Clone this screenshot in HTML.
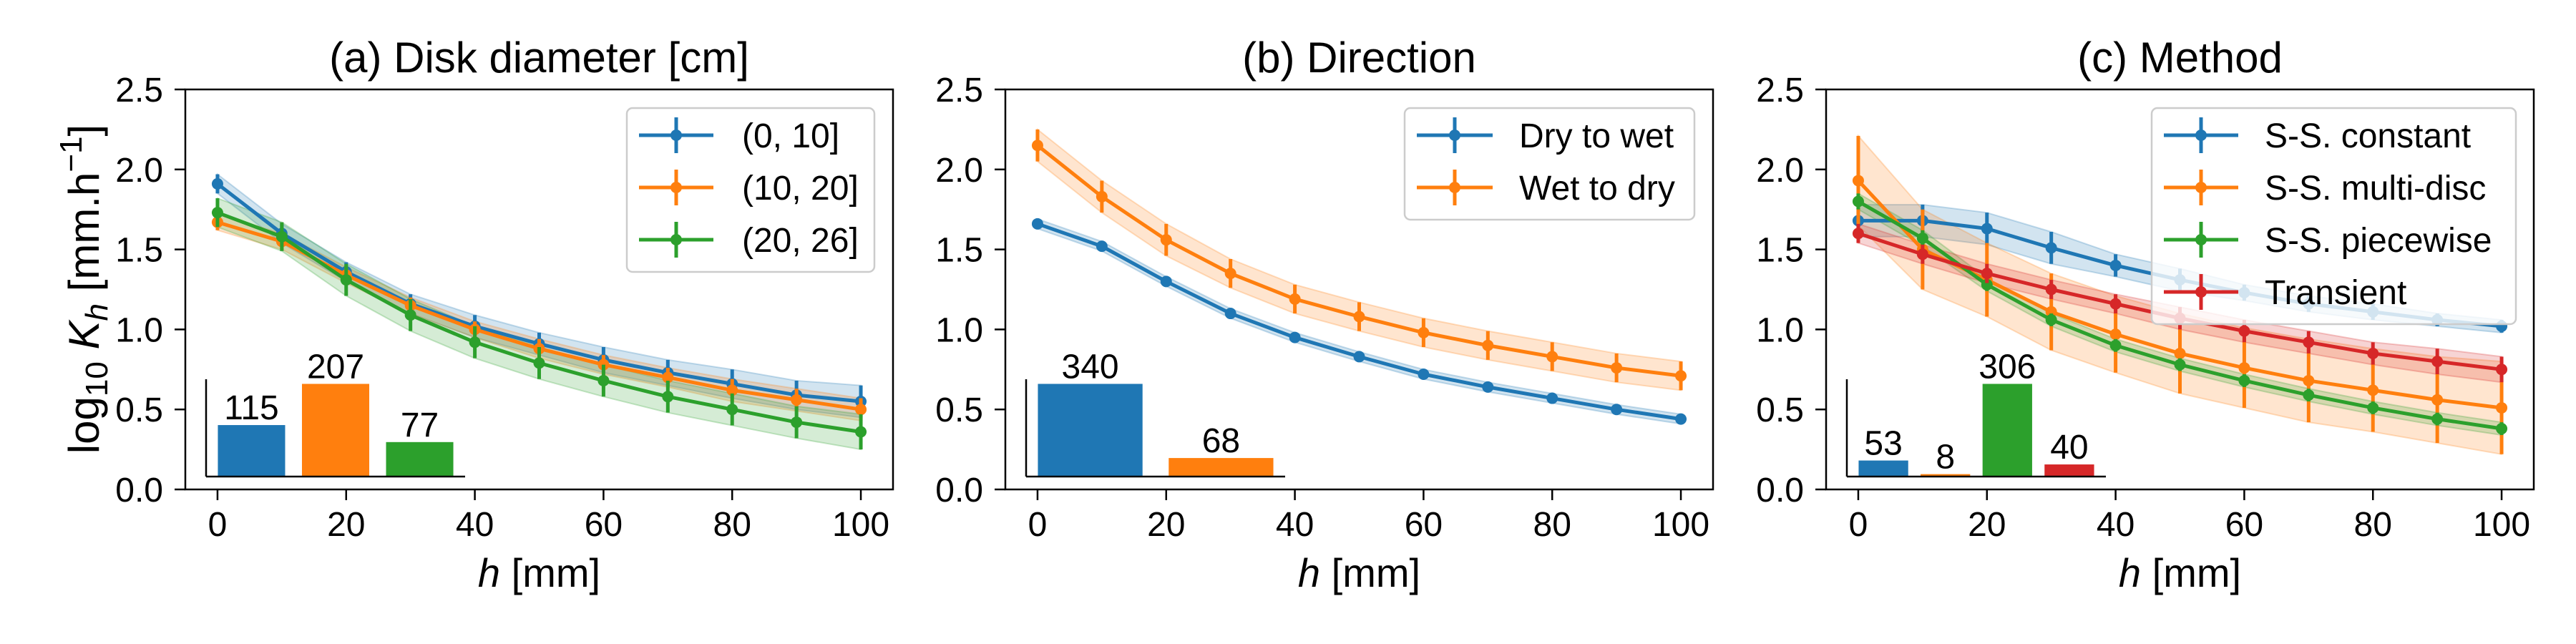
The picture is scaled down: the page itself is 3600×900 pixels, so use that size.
<!DOCTYPE html>
<html><head><meta charset="utf-8">
<style>
html,body{margin:0;padding:0;background:#fff;}
svg{display:block;font-family:"Liberation Sans",Arial,sans-serif;}
</style></head>
<body>
<svg id="fig" width="3600" height="900" viewBox="0 0 3600 900" xmlns="http://www.w3.org/2000/svg">
<rect width="3600" height="900" fill="#fff"/>
<text transform="translate(138,404) rotate(-90)" text-anchor="middle" font-size="60">log<tspan font-size="44" dy="12">10</tspan><tspan dy="-12"> </tspan><tspan font-style="italic">K</tspan><tspan font-style="italic" font-size="44" dy="12">h</tspan><tspan dy="-12"> [mm.h</tspan><tspan font-size="44" dy="-24">−1</tspan><tspan dy="24">]</tspan></text>
</svg>
<script>
const hVals = [0,10,20,30,40,50,60,70,80,90,100];
const xTicks = [0,20,40,60,80,100];
const yTicks = [0,0.5,1.0,1.5,2.0,2.5];
const yTickLabels = ["0.0","0.5","1.0","1.5","2.0","2.5"];

const aNames = ["(0, 10]","(10, 20]","(20, 26]"];
const aBlue = [1.91,1.60,1.36,1.16,1.02,0.91,0.81,0.73,0.66,0.59,0.55];
const aBlueErr = [0.06,0.06,0.06,0.06,0.07,0.07,0.08,0.08,0.09,0.09,0.10];
const aOrange = [1.67,1.55,1.34,1.15,1.00,0.88,0.78,0.70,0.62,0.56,0.50];
const aOrangeErr = [0.05,0.05,0.05,0.05,0.05,0.06,0.06,0.06,0.07,0.07,0.07];
const aGreen = [1.73,1.58,1.31,1.09,0.92,0.79,0.68,0.58,0.50,0.42,0.36];
const aGreenErr = [0.09,0.09,0.10,0.10,0.10,0.10,0.10,0.10,0.10,0.10,0.11];
const aCounts = [115,207,77];

const bNames = ["Dry to wet","Wet to dry"];
const bDry = [1.66,1.52,1.30,1.10,0.95,0.83,0.72,0.64,0.57,0.50,0.44];
const bDryErr = [0.03,0.03,0.03,0.03,0.03,0.03,0.03,0.03,0.03,0.03,0.03];
const bWet = [2.15,1.83,1.56,1.35,1.19,1.08,0.98,0.90,0.83,0.76,0.71];
const bWetErr = [0.10,0.10,0.10,0.09,0.09,0.09,0.09,0.09,0.09,0.09,0.09];
const bCounts = [340,68];

const cNames = ["S-S. constant","S-S. multi-disc","S-S. piecewise","Transient"];
const cConst = [1.68,1.68,1.63,1.51,1.40,1.31,1.23,1.16,1.11,1.06,1.02];
const cConstErr = [0.10,0.10,0.10,0.10,0.07,0.07,0.05,0.05,0.05,0.04,0.04];
const cMulti = [1.93,1.50,1.31,1.11,0.97,0.85,0.76,0.68,0.62,0.56,0.51];
const cMultiErr = [0.28,0.25,0.23,0.24,0.24,0.25,0.25,0.26,0.26,0.27,0.29];
const cPiece = [1.80,1.57,1.28,1.06,0.90,0.78,0.68,0.59,0.51,0.44,0.38];
const cPieceErr = [0.05,0.05,0.04,0.04,0.04,0.04,0.04,0.04,0.04,0.04,0.04];
const cTrans = [1.60,1.47,1.35,1.25,1.16,1.07,0.99,0.92,0.85,0.80,0.75];
const cTransErr = [0.06,0.06,0.06,0.06,0.06,0.07,0.07,0.07,0.07,0.08,0.08];
const cCounts = [53,8,306,40];

const COLORS = ["#1f77b4","#ff7f0e","#2ca02c","#d62728"];
const NS = "http://www.w3.org/2000/svg";
const svg = document.getElementById('fig');

function mk(tag, attrs, parent){
  const e = document.createElementNS(NS, tag);
  for (const k in attrs) e.setAttribute(k, attrs[k]);
  (parent||svg).appendChild(e);
  return e;
}

function panel(pl, title, titleName, series, names, counts, legendBox){
  const top=125, bot=684, W=989;
  const xs = v => pl + (v+5)/110*W;
  const ys = v => bot - v/2.5*(bot-top);
  const g = mk('g',{});
  
  
  series.forEach((s,i)=>{
    const col = COLORS[i];
    let up = s.vals.map((v,j)=>xs(hVals[j])+','+ys(v+s.err[j]));
    let dn = s.vals.map((v,j)=>xs(hVals[j])+','+ys(v-s.err[j])).reverse();
    const band = mk('polygon',{points:up.concat(dn).join(' '),fill:col,'fill-opacity':0.2,stroke:col,'stroke-opacity':0.25,'stroke-width':2},g);
    
    
  });
  series.forEach((s,i)=>{
    const col = COLORS[i];
    const sg = mk('g',{},g);
    
    
    s.vals.forEach((v,j)=>{
      const eb = mk('line',{x1:xs(hVals[j]),x2:xs(hVals[j]),y1:ys(v-s.err[j]),y2:ys(v+s.err[j]),stroke:col,'stroke-width':5},sg);
      
      
    });
    const ln = mk('polyline',{points:s.vals.map((v,j)=>xs(hVals[j])+','+ys(v)).join(' '),fill:'none',stroke:col,'stroke-width':5,'stroke-linejoin':'round'},sg);
    
    
    s.vals.forEach((v,j)=>{
      const pt = mk('circle',{cx:xs(hVals[j]),cy:ys(v),r:8,fill:col},sg);
      
      
    });
  });
  const fr = mk('rect',{x:pl,y:top,width:W,height:bot-top,fill:'none',stroke:'#000','stroke-width':2.5},g);
  
  
  xTicks.forEach(t=>{
    mk('line',{x1:xs(t),x2:xs(t),y1:bot,y2:bot+15,stroke:'#000','stroke-width':2.5},g);
    const tl = mk('text',{x:xs(t),y:749,'text-anchor':'middle','font-size':48},g);
    tl.textContent = t;
    
    
  });
  yTicks.forEach((t,k)=>{
    mk('line',{x1:pl-15,x2:pl,y1:ys(t),y2:ys(t),stroke:'#000','stroke-width':2.5},g);
    const tl = mk('text',{x:pl-31,y:ys(t)+17,'text-anchor':'end','font-size':48},g);
    tl.textContent = yTickLabels[k];
    
    
  });
  const tt = mk('text',{x:pl+W/2,y:101,'text-anchor':'middle','font-size':60},g);
  tt.textContent = title;
  
  
  const xl = mk('text',{x:pl+W/2,y:820,'text-anchor':'middle','font-size':56},g);
  xl.innerHTML = '<tspan font-style="italic">h</tspan> [mm]';
  
  
  const il = pl+29, ir = il+362, ib = 666, it = 530;
  const n = counts.length;
  const x0 = -0.4 - 0.05*(n-0.2), x1 = n-1+0.4 + 0.05*(n-0.2);
  const bx = v => il + (v-x0)/(x1-x0)*(ir-il);
  const maxC = Math.max(...counts)*1.05;
  const by = v => ib - v/maxC*(ib-it);
  const ig = mk('g',{},g);
  
  
  counts.forEach((c,i)=>{
    const r = mk('rect',{x:bx(i-0.4),y:by(c),width:bx(i+0.4)-bx(i-0.4),height:ib-by(c),fill:COLORS[i]},ig);
    
    
    const lt = mk('text',{x:bx(i),y:by(c)-8,'text-anchor':'middle','font-size':48},ig);
    lt.textContent = c;
    
    
  });
  mk('line',{x1:il,x2:il,y1:it,y2:ib,stroke:'#000','stroke-width':2.5},ig);
  mk('line',{x1:il,x2:ir,y1:ib,y2:ib,stroke:'#000','stroke-width':2.5},ig);
  const [lx1,lx2,ly1,hx1,hx2,tx] = legendBox;
  const lg = mk('g',{},g);
  
  
  const ly2 = ly1 + names.length*73 + 10;
  mk('rect',{x:lx1,y:ly1,width:lx2-lx1,height:ly2-ly1,rx:8,fill:'#fff','fill-opacity':0.8,stroke:'#ccc','stroke-width':2.5},lg);
  names.forEach((nm,i)=>{
    const y = ly1+38+i*73;
    const eg = mk('g',{},lg);
    
    
    mk('line',{x1:hx1,x2:hx2,y1:y,y2:y,stroke:COLORS[i],'stroke-width':5},eg);
    mk('line',{x1:(hx1+hx2)/2,x2:(hx1+hx2)/2,y1:y-25,y2:y+25,stroke:COLORS[i],'stroke-width':5},eg);
    mk('circle',{cx:(hx1+hx2)/2,cy:y,r:8,fill:COLORS[i]},eg);
    const t = mk('text',{x:tx,y:y+17,'font-size':48},eg);
    t.textContent = nm;
  });
}

panel(259,"(a) Disk diameter [cm]","disk-diameter",
  [{vals:aBlue,err:aBlueErr},{vals:aOrange,err:aOrangeErr},{vals:aGreen,err:aGreenErr}],
  aNames, aCounts, [876,1222,151,893,997,1037]);
panel(1405,"(b) Direction","direction",
  [{vals:bDry,err:bDryErr},{vals:bWet,err:bWetErr}],
  bNames, bCounts, [1963,2368,151,1980,2086,2123]);
panel(2552,"(c) Method","method",
  [{vals:cConst,err:cConstErr},{vals:cMulti,err:cMultiErr},{vals:cPiece,err:cPieceErr},{vals:cTrans,err:cTransErr}],
  cNames, cCounts, [3007,3516,151,3024,3128,3165]);
</script>
</body></html>
